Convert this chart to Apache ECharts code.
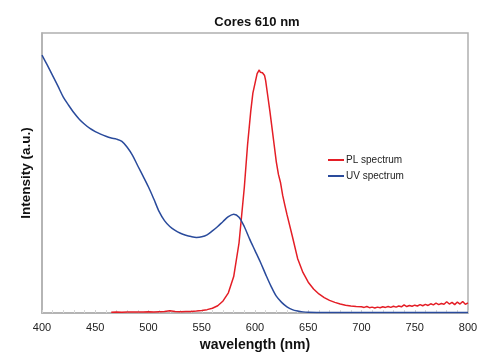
<!DOCTYPE html>
<html><head><meta charset="utf-8">
<script src="https://cdn.jsdelivr.net/npm/echarts@6/dist/echarts.min.js"></script>
<style>html,body{margin:0;padding:0;background:#fff}#c{width:496px;height:360px}</style>
</head><body><div id="c"></div>
<script>
var titleText = "Cores 610 nm";
var xName = "wavelength (nm)";
var yName = "Intensity (a.u.)";
var xTicks = [400, 450, 500, 550, 600, 650, 700, 750, 800];

var uvWavelength = [400,405,410,415,420,425,430,435,440,445,450,455,460,465,470,475,480,485,490,495,500,505,510,515,520,525,530,535,540,545,550,555,560,565,570,575,580,585,590,595,600,605,610,615,620,625,630,635,640,645,650,660,680,700,720,740,760,780,800];
var uvIntensity  = [92.1,88.5,84.8,81.0,77.1,74.2,71.5,69.2,67.4,65.9,64.8,63.9,63.1,62.5,62.1,61.3,59.2,56.3,52.5,48.8,45.0,40.7,36.2,33.0,30.9,29.5,28.5,27.8,27.3,27.0,27.2,27.9,29.3,30.9,32.7,34.4,35.3,34.2,30.8,26.4,22.3,18.2,13.8,9.6,6.0,3.8,2.2,1.2,0.7,0.4,0.25,0.2,0.15,0.15,0.15,0.15,0.15,0.15,0.15];

var plWavelength = [465,470,475,480,485,490,495,500,505,510,515,520,525,530,535,540,545,550,555,560,565,570,575,580,585,590,593,596,598,600,602,603,604,605,606,607,608,609,610,612,614,616,618,620,622,624,626,628,630,635,640,645,650,655,660,665,670,675,680,685,690,695,700,702.5,705,707.5,710,712.5,715,717.5,720,722.5,725,727.5,730,732.5,735,737.5,740,742.5,745,747.5,750,752.5,755,757.5,760,762.5,765,767.5,770,772.5,775,777.5,780,782.5,785,787.5,790,792.5,795,797.5,800];
var plIntensity  = [0.3,0.35,0.3,0.4,0.35,0.4,0.35,0.45,0.4,0.45,0.5,0.8,0.5,0.45,0.5,0.55,0.7,0.9,1.2,1.7,2.6,4.3,7.2,13,25,45,60,72,78.5,82,85.5,86.2,86.8,86.0,86.7,85.8,85.6,84.8,83,77.5,72,66,60,54,49.5,46.5,42,38.5,35.2,27.5,19.5,14.5,11,8.6,6.8,5.5,4.5,3.8,3.2,2.8,2.5,2.3,2.2,2.0,2.3,1.9,2.1,1.8,2.1,1.9,2.2,2.0,2.3,2.0,2.4,2.1,2.5,2.2,2.9,2.3,2.7,2.4,2.8,2.5,3.0,2.6,3.1,2.7,3.3,2.9,3.5,3.0,3.4,3.1,4.0,3.2,3.8,3.0,3.9,3.2,4.1,3.1,3.6];

function pairs(xs, ys){ var o=[]; for (var i=0;i<xs.length;i++) o.push([xs[i], ys[i]]); return o; }

var chart = echarts.init(document.getElementById('c'), null, {renderer:'canvas'});
var font = "Liberation Sans, Arial, sans-serif";
chart.setOption({
  animation:false,
  backgroundColor:'#fff',
  title:{text:titleText, left:252, textAlign:'center', top:11,
    textStyle:{fontFamily:font, fontSize:13, fontWeight:'bold', color:'#111'}},
  grid:{left:42, right:28, top:33, bottom:47, show:true, borderColor:'#b0b0b0', borderWidth:1.5, backgroundColor:'transparent', containLabel:false, outerBoundsMode:'none'},
  legend:{orient:'vertical', left:323, top:150, itemWidth:16, itemHeight:2, itemGap:6,
    textStyle:{fontFamily:font, fontSize:10, color:'#222', padding:[0,0,0,-3]},
    data:[{name:'PL spectrum', icon:'rect'},{name:'UV spectrum', icon:'rect'}]},
  xAxis:{type:'value', min:xTicks[0], max:xTicks[xTicks.length-1], interval:50,
    name:xName, nameLocation:'middle', nameGap:21,
    nameTextStyle:{fontFamily:font, fontSize:14, fontWeight:'bold', color:'#111'},
    axisLine:{show:true, lineStyle:{color:'#b0b0b0', width:1.5}},
    axisTick:{show:true, inside:true, length:3, lineStyle:{color:'#d0d0d0'}},
    minorTick:{show:true, splitNumber:5, length:3, lineStyle:{color:'#d8d8d8'}},
    splitLine:{show:false},
    axisLabel:{fontFamily:font, fontSize:11, color:'#222', margin:9}},
  yAxis:{type:'value', min:0, max:100,
    name:yName, nameLocation:'middle', nameGap:9, nameRotate:90,
    nameTextStyle:{fontFamily:font, fontSize:13.5, fontWeight:'bold', color:'#111'},
    axisLine:{show:true, lineStyle:{color:'#b0b0b0', width:1.5}},
    axisTick:{show:false}, axisLabel:{show:false}, splitLine:{show:false}},
  series:[
    {name:'PL spectrum', type:'line', showSymbol:false, color:'#e41e26',
      lineStyle:{width:1.5, color:'#e41e26'}, data:pairs(plWavelength, plIntensity)},
    {name:'UV spectrum', type:'line', showSymbol:false, smooth:0.3, color:'#2a4b9c',
      lineStyle:{width:1.5, color:'#2a4b9c'}, data:pairs(uvWavelength, uvIntensity)}
  ]
});
</script></body></html>
